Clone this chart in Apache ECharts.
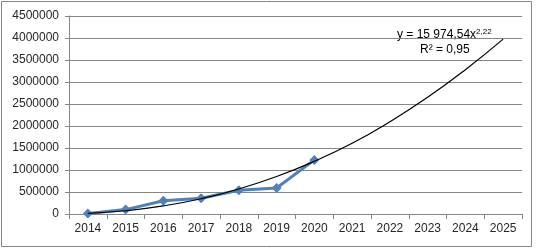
<!DOCTYPE html>
<html>
<head>
<meta charset="utf-8">
<script src="https://cdn.jsdelivr.net/npm/echarts@6/dist/echarts.min.js"></script>
<style>
  html, body { margin: 0; padding: 0; background: #fff; }
  #chart { width: 539px; height: 249px; }
</style>
</head>
<body>
<div id="chart"></div>
<script>
var years = ['2014', '2015', '2016', '2017', '2018', '2019', '2020', '2021', '2022', '2023', '2024', '2025'];
var actual = [10000, 100000, 300000, 360000, 540000, 590000, 1230000];
// power trend line (y = 15 974,54x^2,22)
var trend = [16000, 74000, 183000, 347000, 569000, 851000, 1198000, 1607000, 2096000, 2652000, 3280000, 3975000];
var yTicks = [0, 500000, 1000000, 1500000, 2000000, 2500000, 3000000, 3500000, 4000000, 4500000];

var font = 'Liberation Sans';

const getOptionChart = () => {
  return {
    animation: false,
    grid: { left: 69, right: 17, top: 16, bottom: 35 },
    xAxis: {
      type: 'category',
      data: years,
      boundaryGap: true,
      axisLine: { lineStyle: { color: '#868686', width: 1 } },
      axisTick: { show: true, length: 5, lineStyle: { color: '#868686' } },
      axisLabel: { color: '#262626', fontFamily: font, fontSize: 12, margin: 9 }
    },
    yAxis: {
      type: 'value',
      min: yTicks[0],
      max: yTicks[yTicks.length - 1],
      interval: 500000,
      axisLine: { show: true, lineStyle: { color: '#868686' } },
      axisTick: { show: true, length: 4, lineStyle: { color: '#868686' } },
      axisLabel: {
        color: '#262626', fontFamily: font, fontSize: 12, margin: 10,
        formatter: (v) => String(v)
      },
      splitLine: { lineStyle: { color: '#868686', width: 1 } }
    },
    series: [
      {
        name: 'trend',
        type: 'line',
        data: trend,
        smooth: true,
        symbol: 'none',
        lineStyle: { color: '#000', width: 1.2 },
        z: 3
      },
      {
        name: 'data',
        type: 'line',
        data: actual,
        symbol: 'diamond',
        symbolSize: 10,
        lineStyle: { color: '#4F81BD', width: 3 },
        itemStyle: { color: '#4F81BD' },
        z: 2
      }
    ],
    graphic: [
      {
        type: 'rect',
        shape: { x: 1.5, y: 1.5, width: 530, height: 245 },
        style: { fill: 'none', stroke: '#868686', lineWidth: 1 },
        silent: true
      },
      {
        type: 'text',
        left: 397,
        top: 28,
        style: {
          text: '{a|y = 15 974,54x}{s|2,22}',
          rich: {
            a: { fontFamily: font, fontSize: 12, fill: '#000' },
            s: { fontFamily: font, fontSize: 8, fill: '#000', verticalAlign: 'top', padding: [0, 0, 6, 0] }
          }
        }
      },
      {
        type: 'text',
        left: 420,
        top: 44,
        style: {
          text: 'R² = 0,95',
          fontFamily: font,
          fontSize: 12,
          fill: '#000'
        }
      }
    ]
  };
};

const initCharts = () => {
  const chart = echarts.init(document.getElementById('chart'));
  chart.setOption(getOptionChart());
};

window.addEventListener('load', () => {
  initCharts();
});
</script>
</body>
</html>
